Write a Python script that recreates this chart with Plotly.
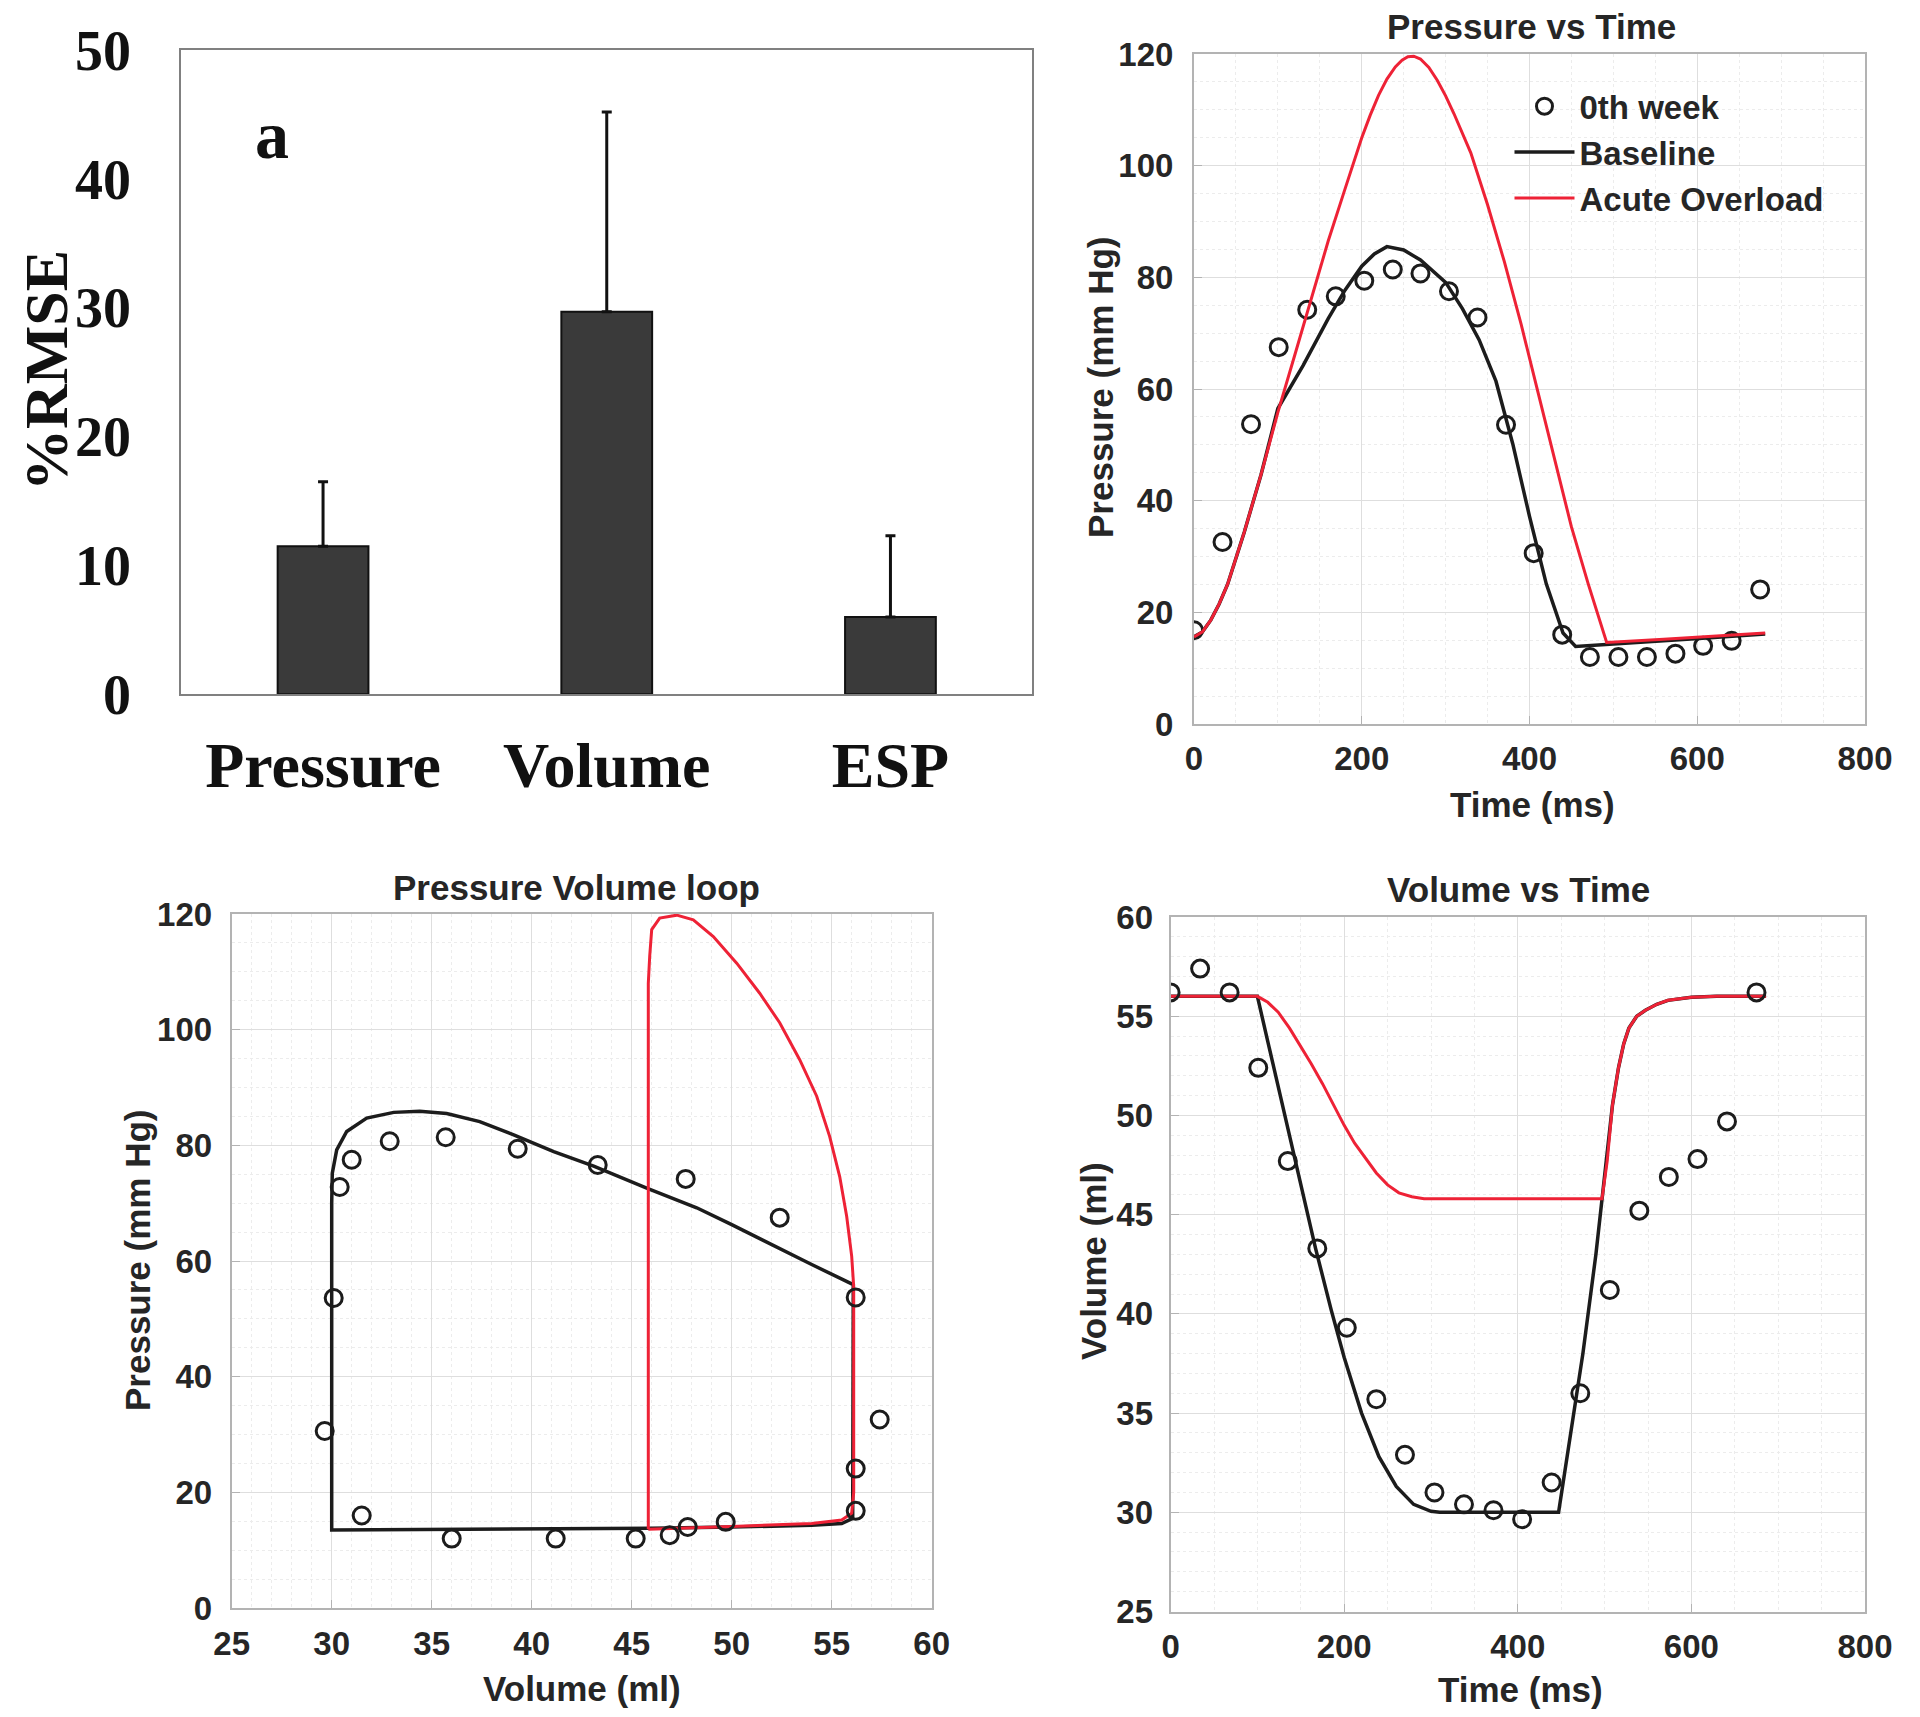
import plotly.graph_objects as go

# ---- panel a: %RMSE bars
categories = ['Pressure', 'Volume', 'ESP']
rmse = [11.5, 29.7, 6.0]
rmse_err = [5.0, 15.5, 6.3]

# ---- measured data (0th week), sampled over one beat
t_obs = [0, 34, 68, 101, 135, 169, 203, 237, 270, 304, 338, 372, 405, 439, 472, 506, 540, 574, 607, 641, 675]
p_obs = [16.8, 32.6, 53.7, 67.5, 74.2, 76.6, 79.4, 81.4, 80.7, 77.5, 72.8, 53.6, 30.6, 16.0, 12.0, 12.0, 12.0, 12.6, 14.0, 14.9, 24.1]
v_obs = [56.2, 57.4, 56.2, 52.4, 47.7, 43.3, 39.3, 35.7, 32.9, 31.0, 30.4, 30.1, 29.65, 31.5, 36.0, 41.2, 45.2, 46.9, 47.8, 49.7, 56.2]

# ---- pressure vs time, model curves
t_p_base = [0, 10, 20, 30, 40, 60, 80, 100, 130, 160, 180, 200, 215, 230, 250, 270, 300, 320, 340, 360, 380, 400, 420, 440, 455, 500, 560, 620, 681]
p_base = [15.6, 16.5, 18.6, 21.5, 25.0, 34.4, 44.7, 56.5, 64.2, 72.6, 77.7, 82.0, 84.2, 85.5, 84.9, 83.1, 79.1, 74.4, 68.8, 61.4, 50.2, 37.2, 25.1, 16.3, 13.9, 14.3, 14.9, 15.5, 16.1]
t_p_over = [0, 10, 20, 30, 40, 60, 80, 100, 120, 140, 160, 180, 200, 210, 220, 230, 240, 248, 255, 262, 270, 280, 290, 300, 310, 330, 350, 370, 390, 410, 430, 450, 470, 492, 560, 620, 681]
p_over = [15.6, 16.5, 18.6, 21.5, 25.0, 34.4, 44.7, 55.8, 66.0, 76.3, 86.5, 95.8, 105.0, 109.0, 112.6, 115.5, 117.7, 118.9, 119.5, 119.6, 119.1, 117.6, 115.3, 112.5, 109.3, 102.3, 93.0, 82.8, 71.6, 59.5, 47.4, 35.3, 25.1, 14.6, 15.2, 15.7, 16.3]

# ---- volume vs time, model curves
t_v_base = [0, 100, 110, 120, 134, 150, 167, 185, 200, 220, 240, 260, 280, 300, 310, 447, 460, 475, 490, 500, 509, 516, 522, 528, 537, 547, 560, 573, 600, 629, 686]
v_base = [56.0, 56.0, 54.1, 52.2, 49.5, 46.5, 43.3, 40.2, 37.8, 35.0, 32.8, 31.3, 30.4, 30.05, 30.0, 30.0, 33.6, 38.0, 43.0, 46.8, 50.5, 52.4, 53.6, 54.4, 55.0, 55.3, 55.6, 55.8, 55.95, 56.0, 56.0]
t_v_over = [0, 100, 112, 124, 137, 150, 162, 175, 187, 200, 212, 225, 237, 250, 263, 278, 292, 305, 497, 503, 509, 516, 522, 528, 537, 547, 560, 573, 600, 629, 686]
v_over = [56.0, 56.0, 55.7, 55.2, 54.4, 53.5, 52.6, 51.6, 50.6, 49.5, 48.6, 47.8, 47.1, 46.5, 46.1, 45.9, 45.8, 45.8, 45.8, 47.7, 50.5, 52.4, 53.6, 54.4, 55.0, 55.3, 55.6, 55.8, 55.95, 56.0, 56.0]

# ---- pressure volume loop, model curves
loop_v_base = [56.05, 56.08, 54.0, 52.0, 50.0, 48.25, 45.75, 43.1, 41.1, 39.1, 37.4, 35.75, 34.4, 33.1, 31.75, 30.75, 30.25, 30.03, 30.0, 30.0, 40.0, 46.0, 50.0, 54.0, 55.5, 56.05]
loop_p_base = [15.5, 55.9, 59.4, 62.9, 66.3, 69.2, 72.6, 76.4, 78.9, 81.8, 84.1, 85.5, 85.9, 85.7, 84.7, 82.4, 79.2, 75.2, 70.0, 13.5, 13.6, 13.8, 14.0, 14.3, 14.6, 15.5]
loop_v_over = [45.83, 45.83, 45.9, 46.0, 46.4, 47.25, 48.08, 49.08, 50.25, 51.4, 52.4, 53.4, 54.25, 54.9, 55.4, 55.75, 56.0, 56.1, 56.1, 56.0, 55.5, 54.0, 50.0, 48.0, 45.83]
loop_p_over = [13.6, 108.0, 112.7, 117.3, 119.3, 119.8, 119.0, 116.1, 111.5, 106.3, 101.2, 94.8, 88.5, 81.5, 74.6, 67.7, 60.8, 55.6, 20.0, 16.4, 15.2, 14.6, 14.1, 13.9, 13.6]

BLACK = '#1c1c1c'
RED = '#ee2236'
TXT = '#262626'
SANS = 'Liberation Sans, Arial, sans-serif'
SERIF = 'Liberation Serif, Times New Roman, serif'

# page body has an 8px margin, so the figure is a bit smaller than the window
W, H = 1904, 1701


def px(x):
    return (x - 8) / W


def py(y):
    return 1 - (y - 8) / H


fig = go.Figure()

fig.add_trace(go.Bar(x=categories, y=rmse, width=0.32,
                     marker=dict(color='#3a3a3a', line=dict(color='#111111', width=2)),
                     error_y=dict(type='data', symmetric=False, array=rmse_err, arrayminus=[0, 0, 0],
                                  color='#111111', thickness=3, width=5),
                     showlegend=False, xaxis='x', yaxis='y'))


def model_pair(xb, yb, xo, yo, ax, legend=False):
    fig.add_trace(go.Scatter(x=xb, y=yb, mode='lines', name='Baseline',
                             line=dict(color=BLACK, width=3.5), showlegend=legend,
                             xaxis='x' + ax, yaxis='y' + ax))
    fig.add_trace(go.Scatter(x=xo, y=yo, mode='lines', name='Acute Overload',
                             line=dict(color=RED, width=3), showlegend=legend,
                             xaxis='x' + ax, yaxis='y' + ax))


def obs(x, y, ax, legend=False):
    fig.add_trace(go.Scatter(x=x, y=y, mode='markers', name='0th week',
                             marker=dict(symbol='circle-open', size=17, color=BLACK, line=dict(width=3)),
                             showlegend=legend, xaxis='x' + ax, yaxis='y' + ax))


obs(t_obs, p_obs, '2', legend=True)
model_pair(t_p_base, p_base, t_p_over, p_over, '2', legend=True)

model_pair(loop_v_base, loop_p_base, loop_v_over, loop_p_over, '3')
obs(v_obs, p_obs, '3')

model_pair(t_v_base, v_base, t_v_over, v_over, '4')
obs(t_obs, v_obs, '4')

tickf = dict(family=SANS, size=33, color=TXT, weight='bold')


def line_axis(x0, x1, y0, y1, anchor, rng, dtick, minor, standoff, horiz):
    dom = [px(x0), px(x1)] if horiz else [py(y1), py(y0)]
    return dict(domain=dom, anchor=anchor, range=rng, dtick=dtick, tick0=rng[0],
                automargin=False,
                showline=True, mirror=True, linecolor='#b3b3b3', linewidth=2,
                ticks='inside', ticklen=8, tickcolor='#b3b3b3',
                showgrid=True, gridcolor='#dedede', gridwidth=1, zeroline=False,
                minor=dict(dtick=minor, showgrid=True, gridcolor='#ececec', griddash='dot'),
                tickfont=tickf, ticklabelstandoff=standoff)


# panel boxes in window pixels: left, right, top, bottom
box_b = (1194, 1865, 54, 724)
box_c = (231.7, 931.7, 914, 1608)
box_d = (1170.6, 1865, 917, 1611.5)

fig.update_layout(
    width=W, height=H,
    margin=dict(l=0, r=0, t=0, b=0),
    paper_bgcolor='white', plot_bgcolor='white',
    xaxis=dict(domain=[px(181.2), px(1032.3)], anchor='y', type='category', range=[-0.5, 2.5],
               automargin=False,
               showline=True, mirror=True, linecolor='#808080', linewidth=2, ticks='',
               showgrid=False, tickfont=dict(family=SERIF, size=64, color='#111111', weight='bold'),
               ticklabelstandoff=14),
    yaxis=dict(domain=[py(694.3), py(50.2)], anchor='x', range=[0, 50], dtick=10,
               automargin=False,
               showline=True, mirror=True, linecolor='#808080', linewidth=2, ticks='',
               showgrid=False, zeroline=False,
               tickfont=dict(family=SERIF, size=56, color='#111111', weight='bold'),
               ticklabelstandoff=37),
    xaxis2=line_axis(*box_b, 'y2', [0, 800], 200, 50, 4, True),
    yaxis2=line_axis(*box_b, 'x2', [0, 120], 20, 5, 12, False),
    xaxis3=line_axis(*box_c, 'y3', [25, 60], 5, 1, 5, True),
    yaxis3=line_axis(*box_c, 'x3', [0, 120], 20, 5, 11, False),
    xaxis4=line_axis(*box_d, 'y4', [0, 800], 200, 50, 5, True),
    yaxis4=line_axis(*box_d, 'x4', [25, 60], 5, 1, 9, False),
    legend=dict(x=0.7886, y=0.9587, xanchor='left', yanchor='top',
                bgcolor='rgba(0,0,0,0)', font=dict(family=SANS, size=33, color=TXT, weight='bold'),
                tracegroupgap=0, itemwidth=60),
)


def label(text, x, y, size=35, angle=0, family=SANS, color=TXT):
    fig.add_annotation(text=text, x=px(x), y=py(y), xref='paper', yref='paper',
                       showarrow=False, textangle=angle, xanchor='center', yanchor='middle',
                       font=dict(family=family, size=size, color=color, weight='bold'))


label('%RMSE', 46, 371, size=62, angle=-90, family=SERIF, color='#111111')
label('a', 272, 135, size=68, family=SERIF, color='#111111')

label('Pressure vs Time', 1531, 27)
label('Time (ms)', 1532, 804)
label('Pressure (mm Hg)', 1100, 388, angle=-90)

label('Pressure Volume loop', 576, 887)
label('Volume (ml)', 582, 1688)
label('Pressure (mm Hg)', 137, 1261, angle=-90)

label('Volume vs Time', 1518, 889)
label('Time (ms)', 1520, 1689)
label('Volume (ml)', 1093, 1261, angle=-90)

fig.write_html('out.html')
